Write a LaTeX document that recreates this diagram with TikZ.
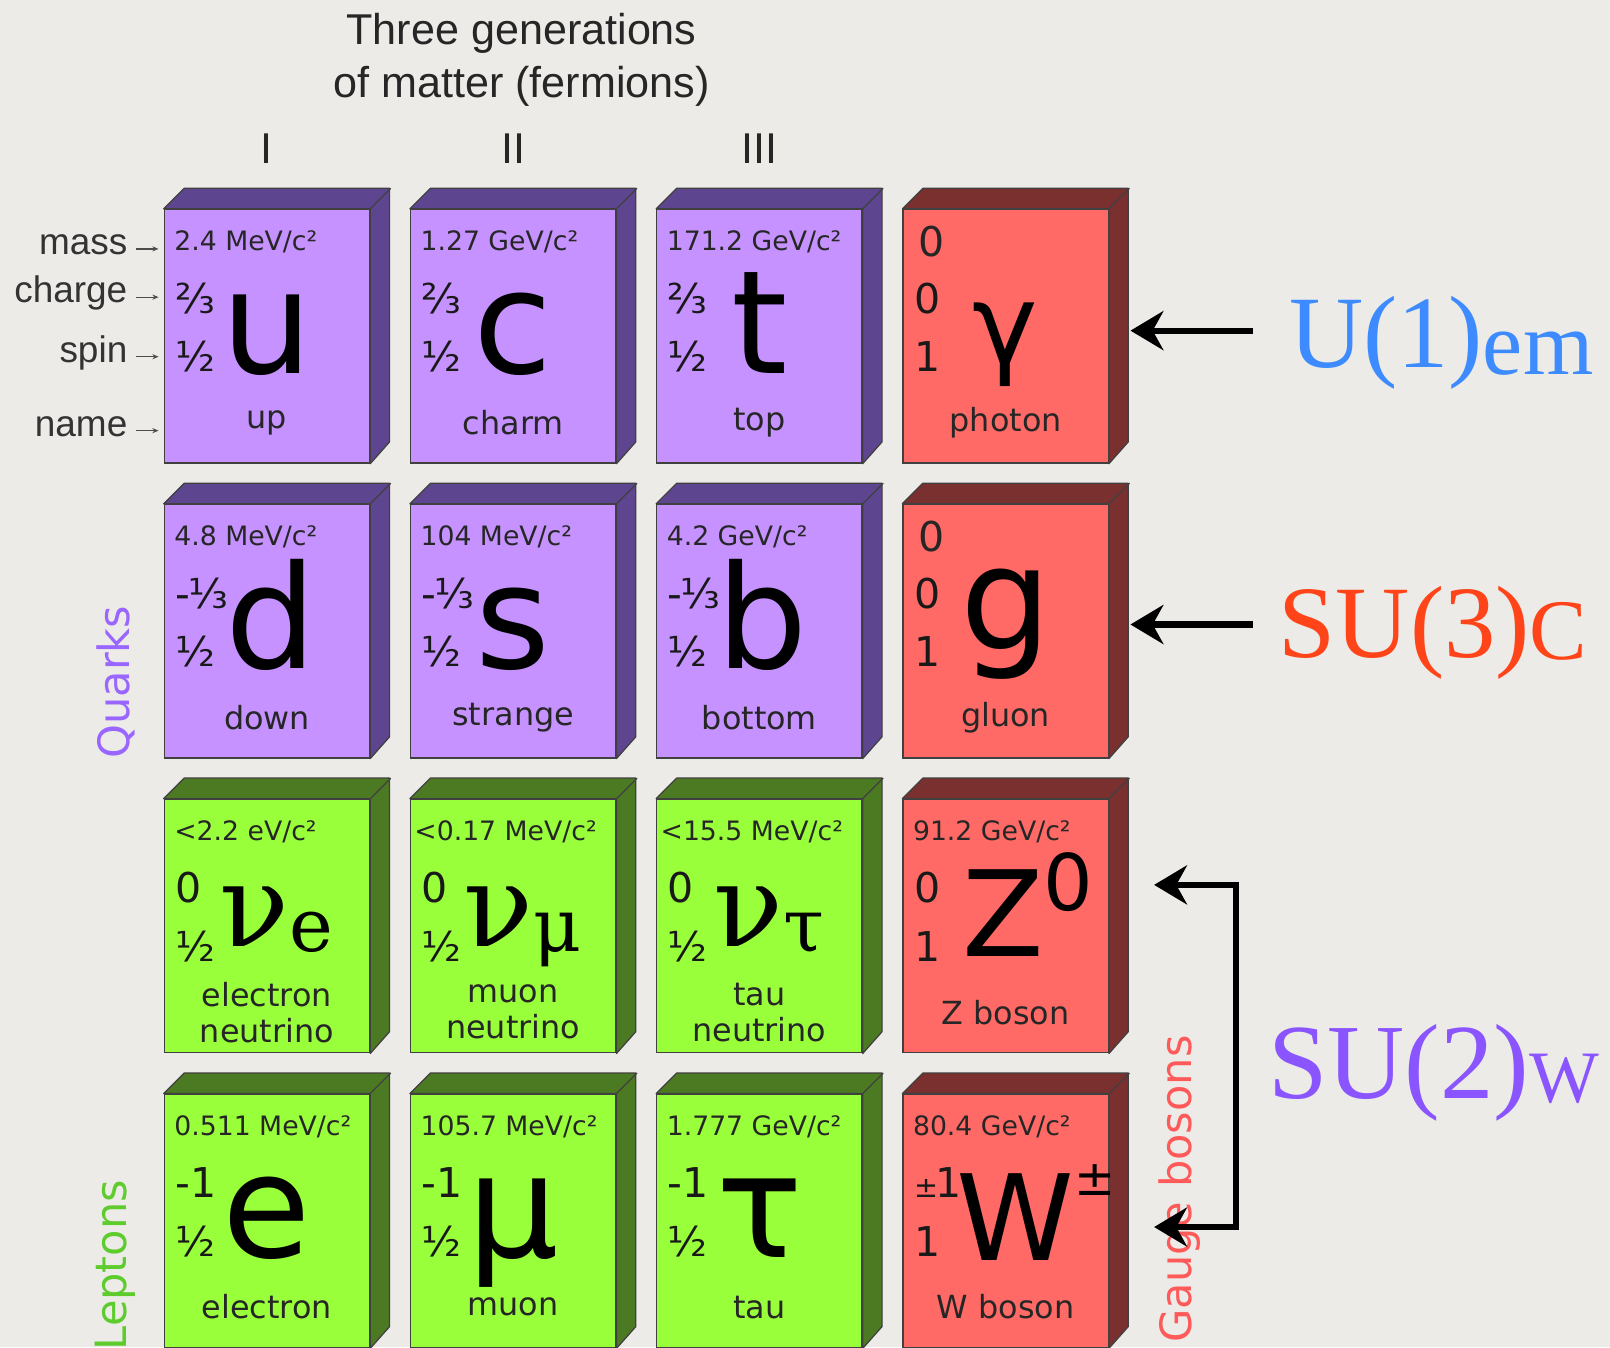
\documentclass[tikz,border=0pt]{standalone}
\usepackage{fontspec}
\setmainfont{DejaVu Sans}
\newfontfamily\headfont{Liberation Sans}
\newfontfamily\nufont{DejaVu Serif}
\newfontfamily\groupfont{Liberation Serif}
\usepackage{tikz}
\usetikzlibrary{arrows.meta,positioning}
\definecolor{PaperBg}{HTML}{ECEBE7}
\definecolor{QuarkFront}{HTML}{C592FF}
\definecolor{QuarkSide}{HTML}{5D4590}
\definecolor{LeptonFront}{HTML}{99FF3A}
\definecolor{LeptonSide}{HTML}{4C7A22}
\definecolor{BosonFront}{HTML}{FF6A66}
\definecolor{BosonSide}{HTML}{7A302E}
\definecolor{QuarkLabel}{HTML}{9966FF}
\definecolor{LeptonLabel}{HTML}{5FCC2E}
\definecolor{BosonLabel}{HTML}{FF5A5A}
\definecolor{EmBlue}{HTML}{3D8BFF}
\definecolor{StrongRed}{HTML}{FF4419}
\definecolor{WeakPurple}{HTML}{8A55FF}

% name, placement, family, mass, charge, spin, symbol shift, symbol, label
\newcommand{\particle}[9]{%
  \node[card=#3, #2] (#1) {};
  \draw[face=#3] (#1.north west) -- ++(10pt,10pt) -- ++(100pt,0pt) -- ++(0pt,-123.5pt) -- (#1.south east) -- (#1.north east) -- cycle;
  \draw[face=#3] (#1.north east) -- ++(10pt,10pt);
  \node[masstext] (#1-mass) at ([shift={(5pt,-16pt)}]#1.north west) {#4};
  \node[qtext] (#1-charge) at ([shift={(5.5pt,-43.5pt)}]#1.north west) {#5};
  \node[qtext] (#1-spin) at ([shift={(5.5pt,-72pt)}]#1.north west) {#6};
  \node[symtext, anchor=base] (#1-sym) at ([shift={(#7)}]#1.north) {#8};
  \node[nametext] (#1-name) at ([shift={(0pt,-104pt)}]#1.north) {#9};
}

\begin{document}
\begin{tikzpicture}[
	node distance=19.5pt and 19.3pt,
	card/.style={fill=#1Front, draw=black!75, line width=.6pt, minimum width=100pt, minimum height=123.5pt, inner sep=0pt},
	face/.style={fill=#1Side, draw=black!75, line width=.6pt, line join=round},
	masstext/.style={anchor=west, inner sep=0pt, font=\fontsize{13}{15}\selectfont, text=black!85},
	qtext/.style={anchor=west, inner sep=0pt, font=\fontsize{20}{22}\selectfont, text=black!90},
	symtext/.style={inner sep=0pt, font=\fontsize{70}{70}\selectfont},
	nametext/.style={inner sep=0pt, align=center, font=\fontsize{15.5}{17.5}\selectfont, text=black!85},
	headtext/.style={inner sep=0pt, font=\headfont\fontsize{21}{25.5}\selectfont, text=black!85},
	lbl/.style={anchor=mid east, inner sep=0pt, font=\headfont\fontsize{18}{20}\selectfont, text=black!80},
	tick/.style={-{Stealth[length=3pt,width=2.5pt]}, line width=.6pt, black!70, shorten <=4pt, shorten >=2.5pt},
	group/.style={text=#1, inner sep=0pt, font=\fontsize{21}{23}\selectfont, rotate=90},
	grouplbl/.style={text=#1, inner sep=0pt, font=\groupfont\fontsize{50}{50}\selectfont},
	gaugearrow/.style={-{Stealth[length=16pt,width=19pt]}, line width=3pt}
]
\useasboundingbox (0pt,0pt) rectangle (784pt,-656pt);
\fill[PaperBg] (0pt,0pt) rectangle (784pt,-656pt);

% quarks
\particle{up}{at={(130pt,-163.75pt)}}{Quark}{2.4 MeV/c²}{⅔}{½}{0pt,-80pt}{u}{up}
\particle{charm}{right=of up}{Quark}{1.27 GeV/c²}{⅔}{½}{0pt,-80pt}{c}{charm}
\particle{top}{right=of charm}{Quark}{171.2 GeV/c²}{⅔}{½}{0pt,-80pt}{t}{top}
\particle{photon}{right=of top}{Boson}{\hspace*{2.5pt}{\fontsize{20}{22}\selectfont 0}}{0}{1}{0pt,-75.5pt}{{\fontsize{54}{54}\selectfont γ}}{photon}
\particle{down}{below=of up}{Quark}{4.8 MeV/c²}{-\kern-1pt⅓}{½}{2pt,-80pt}{d}{down}
\particle{strange}{right=of down}{Quark}{104 MeV/c²}{-\kern-1pt⅓}{½}{0pt,-80pt}{s}{strange}
\particle{bottom}{right=of strange}{Quark}{4.2 GeV/c²}{-\kern-1pt⅓}{½}{1.5pt,-80pt}{b}{bottom}
\particle{gluon}{right=of bottom}{Boson}{\hspace*{2.5pt}{\fontsize{20}{22}\selectfont 0}}{0}{1}{0pt,-71pt}{g}{gluon}

% leptons
\particle{nue}{below=of down}{Lepton}{<2.2 eV/c²}{0}{½}{4.75pt,-72pt}{{\nufont\fontsize{56}{56}\selectfont ν\raisebox{-2.5pt}{\fontsize{36}{36}\selectfont e}}}{electron\\neutrino}
\particle{numu}{right=of nue}{Lepton}{\hspace*{-3pt}<0.17 MeV/c²}{0}{½}{4.75pt,-72pt}{{\nufont\fontsize{56}{56}\selectfont ν\raisebox{-2.5pt}{\fontsize{36}{36}\selectfont μ}}}{muon\\neutrino}
\particle{nutau}{right=of numu}{Lepton}{\hspace*{-3pt}<15.5 MeV/c²}{0}{½}{4.75pt,-72pt}{{\nufont\fontsize{56}{56}\selectfont ν\raisebox{-2.5pt}{\fontsize{36}{36}\selectfont τ}}}{tau\\neutrino}
\particle{zboson}{right=of nutau}{Boson}{91.2 GeV/c²}{0}{1}{10.75pt,-77pt}{{\fontsize{58}{58}\selectfont Z}\raisebox{22.5pt}{\fontsize{38}{38}\selectfont 0}}{Z boson}
\particle{electron}{below=of nue}{Lepton}{0.511 MeV/c²}{-1}{½}{0pt,-80pt}{e}{electron}
\particle{muon}{right=of electron}{Lepton}{105.7 MeV/c²}{-1}{½}{0pt,-80pt}{μ}{muon}
\particle{tau}{right=of muon}{Lepton}{1.777 GeV/c²}{-1}{½}{0pt,-80pt}{τ}{tau}
\particle{wboson}{right=of tau}{Boson}{80.4 GeV/c²}{{\fontsize{14}{14}\selectfont ±}\kern-1.5pt 1}{1}{15pt,-81.5pt}{{\fontsize{58}{58}\selectfont W}\raisebox{32pt}{\fontsize{24}{24}\selectfont ±}}{W boson}

% headings
\node[headtext, align=center] (title) at (254pt,-29.2pt) {Three generations\\of matter (fermions)};
\node[headtext, above=22pt of up.north, anchor=base] (gen1) {I};
\node[headtext, above=22pt of charm.north, anchor=base] (gen2) {II};
\node[headtext, above=22pt of top.north, anchor=base] (gen3) {III};

% property keys
\node[lbl] (lmass) at ([shift={(-17.5pt,-19.5pt)}]up.north west) {mass};
\node[lbl] (lcharge) at ([shift={(-17.5pt,-43pt)}]up.north west) {charge};
\node[lbl] (lspin) at ([shift={(-17.5pt,-72pt)}]up.north west) {spin};
\node[lbl] (lname) at ([shift={(-17.5pt,-108pt)}]up.north west) {name};
\draw[tick] (lmass.mid east) -- (lmass.mid east -| up.west);
\draw[tick] (lcharge.mid east) -- (lcharge.mid east -| up.west);
\draw[tick] (lspin.mid east) -- (lspin.mid east -| up.west);
\draw[tick] (lname.mid east) -- (lname.mid east -| up.west);

% families
\node[group=QuarkLabel] (quarks) at ([shift={(-23.5pt,-24.75pt)}]down.west) {Quarks};
\node[group=LeptonLabel] (leptons) at ([shift={(-23.5pt,-21.5pt)}]electron.west) {Leptons};
\node[group=BosonLabel] (bosons) at ([shift={(34.5pt,15.5pt)}]wboson.east) {Gauge bosons};

% gauge groups
\coordinate (gtip) at ([shift={(10.5pt,2.75pt)}]photon.east);
\coordinate (ctip) at ([shift={(10.5pt,3.25pt)}]gluon.east);
\coordinate (ztip) at ([shift={(22pt,-42pt)}]zboson.north east);
\coordinate (wtip) at ([shift={(22pt,-65pt)}]wboson.north east);
\node[grouplbl=EmBlue, inner xsep=17.5pt, anchor=base west] (uone) at (610pt,-179pt) {U(1)\raisebox{-3.5pt}{\fontsize{44}{44}\selectfont em}};
\node[grouplbl=StrongRed, inner xsep=12.5pt, anchor=base west] (suthree) at (610pt,-320pt) {SU(3)\raisebox{-1pt}{\fontsize{42}{42}\selectfont C}};
\node[grouplbl=WeakPurple, font=\groupfont\fontsize{52}{52}\selectfont, anchor=base west] (sutwo) at (617.5pt,-535pt) {SU(2)\raisebox{-2pt}{\fontsize{36}{36}\selectfont W}};
\draw[gaugearrow] (uone.west |- gtip) -- (gtip);
\draw[gaugearrow] (suthree.west |- ctip) -- (ctip);
\draw[gaugearrow, {Stealth[length=16pt,width=19pt]}-{Stealth[length=16pt,width=19pt]}] (ztip) -- ++(40pt,0pt) |- (wtip);
\end{tikzpicture}
\end{document}
